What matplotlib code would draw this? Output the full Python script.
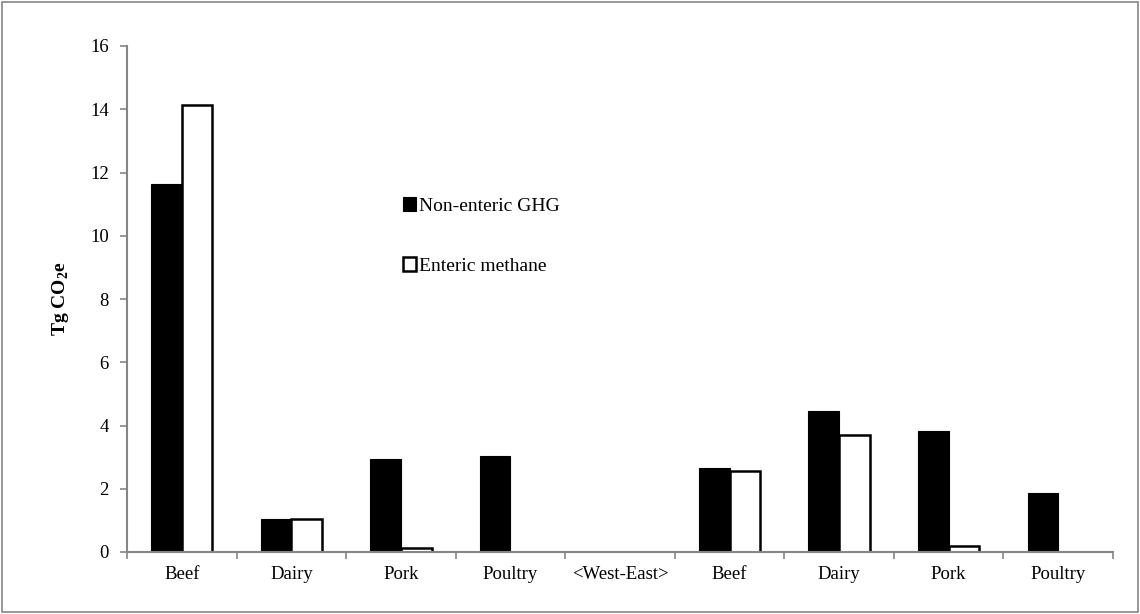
import numpy as np
import matplotlib.pyplot as plt
from matplotlib.patches import Rectangle

plt.rcParams['font.family'] = ['Liberation Serif', 'DejaVu Serif']
plt.rcParams['mathtext.fontset'] = 'custom'
plt.rcParams['mathtext.rm'] = 'Liberation Serif'
plt.rcParams['mathtext.bf'] = 'Liberation Serif:bold'

categories = ['Beef', 'Dairy', 'Pork', 'Poultry', '<West-East>', 'Beef', 'Dairy', 'Pork', 'Poultry']
non_enteric = [11.65, 1.05, 2.93, 3.04, np.nan, 2.65, 4.46, 3.83, 1.86]
enteric = [14.15, 1.05, 0.12, 0.0, np.nan, 2.56, 3.69, 0.2, 0.0]

fig = plt.figure(figsize=(11.4, 6.14), dpi=100)
ax = fig.add_axes([127 / 1140, 1 - 552 / 614, (1113 - 127) / 1140, (552 - 46) / 614])

x = np.arange(len(categories))
w = 0.28
ax.bar(x - w / 2, non_enteric, w, color='black', edgecolor='black', linewidth=0.8, label='Non-enteric GHG')
ent = [v if v and v > 0 else np.nan for v in enteric]
ax.bar(x + w / 2, ent, w, color='white', edgecolor='black', linewidth=1.8, label='Enteric methane')

ax.set_xlim(-0.5, len(categories) - 0.5)
ax.set_ylim(0, 16)
ax.set_yticks(range(0, 17, 2))
ax.set_xticks(x)
ax.set_xticklabels(categories, fontsize=13.5)
ax.set_xticks(np.arange(-0.5, len(categories), 1), minor=True)
ax.tick_params(axis='x', which='major', length=0, pad=10)
ax.tick_params(axis='x', which='minor', length=5, color='#868686', width=1.2)
ax.tick_params(axis='y', length=5, color='#868686', width=1.2, labelsize=13.5, pad=8)

for s in ['top', 'right']:
    ax.spines[s].set_visible(False)
for s in ['left', 'bottom']:
    ax.spines[s].set_color('#868686')
    ax.spines[s].set_linewidth(1.5)

ax.set_ylabel('Tg CO$_\\mathbf{2}$e', fontsize=14, fontweight='bold', labelpad=14)

leg = ax.legend(loc='upper left', bbox_to_anchor=(0.262, 0.736), frameon=False,
                fontsize=14, labelspacing=2.2, handlelength=0.7, handleheight=0.7,
                handletextpad=0.15)

fig.patches.append(Rectangle((0.002, 0.003), 0.996, 0.994, transform=fig.transFigure,
                             fill=False, edgecolor='#868686', linewidth=1.2))

fig.savefig('out.png', dpi=100)
